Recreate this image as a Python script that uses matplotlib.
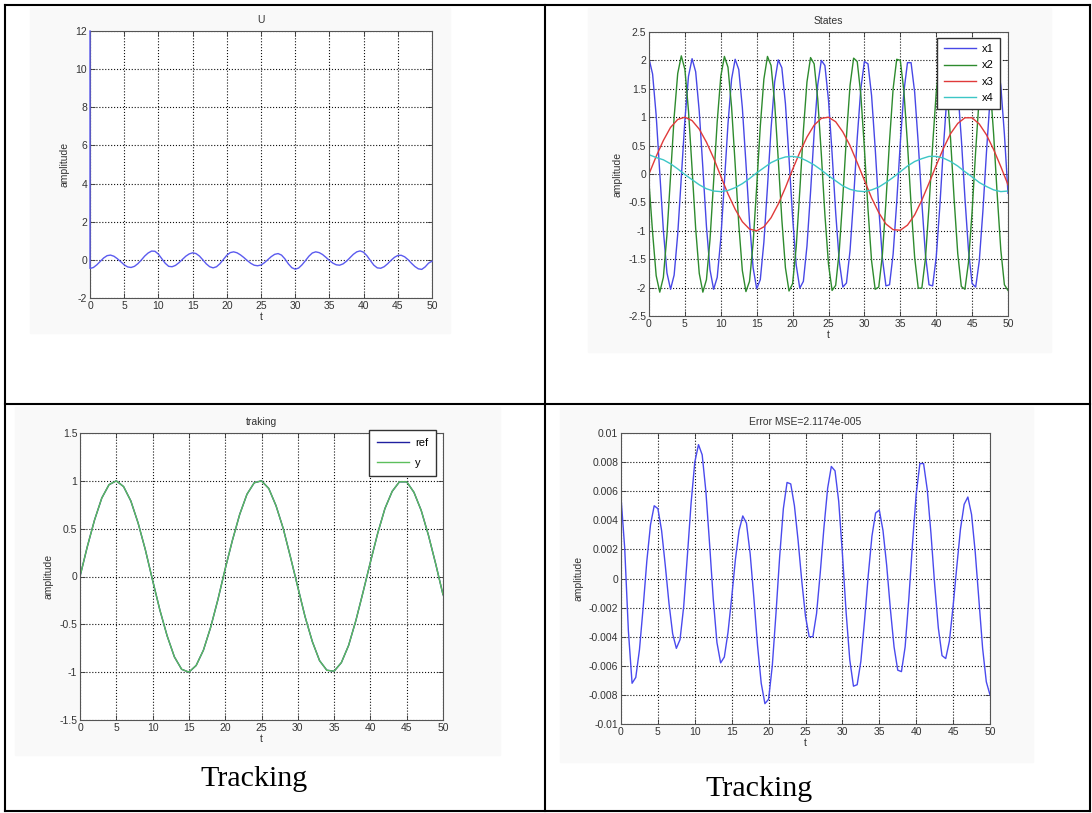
import numpy as np
import matplotlib
matplotlib.use('Agg')
import matplotlib.pyplot as plt
from matplotlib.ticker import FuncFormatter
from matplotlib.lines import Line2D
from matplotlib.patches import Rectangle

# time grids
t_fine = np.arange(0, 50.5, 0.5)
t_slow = np.arange(0, 51, 1.0)

# control signal U (first sample is the initial kick at t=0)
u_kick = 12.0
u_vals = [-0.45, -0.40, -0.26, -0.08, 0.10, 0.22, 0.25, 0.19, 0.06, -0.10,
          -0.26, -0.37, -0.40, -0.34, -0.20, -0.01, 0.20, 0.36, 0.46, 0.45,
          0.30, 0.06, -0.18, -0.34, -0.36, -0.29, -0.15, 0.02, 0.19, 0.31,
          0.37, 0.33, 0.20, 0.00, -0.21, -0.36, -0.42, -0.36, -0.20, 0.02,
          0.24, 0.38, 0.42, 0.37, 0.26, 0.12, -0.04, -0.18, -0.28, -0.31,
          -0.27, -0.15, 0.01, 0.17, 0.29, 0.33, 0.25, 0.05, -0.21, -0.41,
          -0.49, -0.43, -0.26, -0.04, 0.19, 0.36, 0.42, 0.38, 0.28, 0.13,
          -0.03, -0.17, -0.26, -0.28, -0.21, -0.07, 0.11, 0.29, 0.42, 0.47,
          0.40, 0.21, -0.04, -0.28, -0.42, -0.44, -0.36, -0.21, -0.03, 0.13,
          0.23, 0.24, 0.16, 0.01, -0.18, -0.35, -0.47, -0.50, -0.37, -0.17,
          -0.07]

# states
x1 = [2.03, 1.76, 1.03, 0.02, -0.99, -1.74, -2.03, -1.78, -1.06, -0.06,
      0.95, 1.72, 2.03, 1.80, 1.10, 0.11, -0.92, -1.69, -2.03, -1.82,
      -1.14, -0.15, 0.88, 1.67, 2.02, 1.84, 1.17, 0.19, -0.84, -1.65,
      -2.02, -1.86, -1.20, -0.23, 0.80, 1.62, 2.01, 1.87, 1.24, 0.28,
      -0.76, -1.60, -2.01, -1.89, -1.27, -0.32, 0.72, 1.57, 2.00, 1.91,
      1.30, 0.36, -0.68, -1.54, -1.99, -1.92, -1.35, -0.42, 0.63, 1.50,
      1.98, 1.94, 1.38, 0.46, -0.59, -1.48, -1.97, -1.95, -1.41, -0.50,
      0.55, 1.45, 1.96, 1.96, 1.44, 0.54, -0.50, -1.42, -1.95, -1.97,
      -1.47, -0.58, 0.46, 1.38, 1.94, 1.98, 1.50, 0.62, -0.42, -1.35,
      -1.93, -1.99, -1.53, -0.66, 0.38, 1.32, 1.91, 2.00, 1.55, 0.70,
      -0.34]
x2 = [-0.15, -1.03, -1.79, -2.08, -1.82, -1.07, -0.04, 1.00, 1.77, 2.08,
      1.84, 1.11, 0.09, -0.96, -1.75, -2.08, -1.86, -1.15, -0.13, 0.92,
      1.72, 2.07, 1.88, 1.18, 0.17, -0.88, -1.70, -2.07, -1.89, -1.22,
      -0.22, 0.84, 1.67, 2.07, 1.91, 1.25, 0.26, -0.80, -1.65, -2.06,
      -1.93, -1.29, -0.30, 0.76, 1.62, 2.05, 1.94, 1.32, 0.35, -0.72,
      -1.59, -2.05, -1.96, -1.35, -0.40, 0.66, 1.56, 2.04, 1.98, 1.40,
      0.45, -0.62, -1.53, -2.03, -1.99, -1.43, -0.49, 0.58, 1.50, 2.02,
      2.00, 1.46, 0.53, -0.54, -1.47, -2.01, -2.01, -1.49, -0.57, 0.50,
      1.43, 1.99, 2.03, 1.52, 0.62, -0.45, -1.40, -1.98, -2.03, -1.55,
      -0.66, 0.41, 1.37, 1.97, 2.04, 1.58, 0.70, -0.37, -1.34, -1.95,
      -2.05]
x3 = [0.00, 0.31, 0.59, 0.82, 0.96, 1.00, 0.94, 0.79, 0.56, 0.28,
      -0.04, -0.35, -0.62, -0.84, -0.97, -1.00, -0.93, -0.77, -0.53, -0.24,
      0.08, 0.38, 0.65, 0.86, 0.98, 1.00, 0.92, 0.74, 0.50, 0.20,
      -0.11, -0.42, -0.68, -0.88, -0.98, -0.99, -0.90, -0.72, -0.46, -0.16,
      0.15, 0.45, 0.71, 0.89, 0.99, 0.99, 0.88, 0.69, 0.43, 0.13,
      -0.19]
x4 = [0.34, 0.29, 0.25, 0.18, 0.09, -0.01, -0.10, -0.19, -0.26, -0.30,
      -0.31, -0.29, -0.24, -0.17, -0.08, 0.02, 0.11, 0.20, 0.26, 0.30,
      0.31, 0.29, 0.23, 0.16, 0.07, -0.03, -0.12, -0.21, -0.27, -0.30,
      -0.31, -0.28, -0.23, -0.15, -0.06, 0.04, 0.14, 0.22, 0.27, 0.31,
      0.31, 0.28, 0.22, 0.14, 0.04, -0.05, -0.15, -0.22, -0.28, -0.31,
      -0.30]

# tracking: reference and output overlap
ref = x3
y_out = x3

# tracking error (x 1e-3)
err = [5.6, 2.1, -3.6, -7.2, -6.8, -4.9, -2.0, 1.2, 3.7, 5.0,
       4.8, 3.3, 0.9, -1.7, -3.8, -4.8, -4.2, -1.9, 1.6, 5.2,
       8.0, 9.2, 8.5, 6.0, 2.4, -1.4, -4.4, -5.8, -5.4, -3.7,
       -1.3, 1.3, 3.3, 4.3, 3.8, 1.7, -1.3, -4.6, -7.2, -8.6,
       -8.3, -6.0, -2.4, 1.5, 4.8, 6.6, 6.5, 5.0, 2.6, -0.2,
       -2.6, -4.0, -4.0, -2.4, 0.4, 3.5, 6.2, 7.7, 7.4, 5.3,
       1.7, -2.3, -5.6, -7.4, -7.3, -5.7, -2.9, 0.2, 2.9, 4.5,
       4.7, 3.3, 0.9, -2.1, -4.7, -6.3, -6.4, -4.7, -1.4, 2.4,
       5.8, 7.9, 7.9, 6.1, 3.1, -0.4, -3.4, -5.3, -5.5, -4.3,
       -1.9, 0.8, 3.4, 5.1, 5.6, 4.4, 1.8, -1.5, -4.8, -7.1,
       -8.0]
mse_text = 'Error MSE=2.1174e-005'

W, H = 1092, 813
plt.rcParams['font.family'] = ['Liberation Sans', 'DejaVu Sans']
fig = plt.figure(figsize=(W / 100, H / 100), dpi=100)


def fig_rect(x0, y0, x1, y1):
    return [x0 / W, 1 - y1 / H, (x1 - x0) / W, (y1 - y0) / H]


def add_axes_px(x0, y0, x1, y1):
    return fig.add_axes(fig_rect(x0, y0, x1, y1))


def style(ax, yticks, title):
    ax.set_xlim(0, 50)
    ax.set_ylim(yticks[0], yticks[-1])
    ax.set_xticks(np.arange(0, 51, 5))
    ax.set_yticks(yticks)
    fmt = FuncFormatter(lambda v, p: '%g' % round(v, 10))
    ax.xaxis.set_major_formatter(fmt)
    ax.yaxis.set_major_formatter(fmt)
    ax.tick_params(direction='in', length=3.5, width=0.6, labelsize=7.5,
                   colors='#333333', top=True, right=True, pad=2)
    for s in ax.spines.values():
        s.set_color('#555555')
        s.set_linewidth(0.8)
    ax.grid(True, linestyle=':', color='#111111', linewidth=0.8)
    ax.set_axisbelow(True)
    ax.set_title(title, fontsize=7.5, color='#333333', pad=6)
    ax.set_xlabel('t', fontsize=7.5, color='#333333', labelpad=1)
    ax.set_ylabel('amplitude', fontsize=7.5, color='#333333', labelpad=4)


def legend(ax, anchor, spacing, pad):
    ax.legend(loc='upper right', bbox_to_anchor=anchor, borderaxespad=0,
              fontsize=8, handlelength=2.9, fancybox=False,
              edgecolor='#333333', framealpha=1, labelspacing=spacing,
              borderpad=pad, handletextpad=0.55)


# faint figure backgrounds behind each plot
for r in [(30, 8, 450, 333), (588, 8, 1051, 352),
          (15, 407, 500, 755), (560, 407, 1033, 762)]:
    fig.patches.append(Rectangle((r[0] / W, 1 - r[3] / H), (r[2] - r[0]) / W,
                                 (r[3] - r[1]) / H, transform=fig.transFigure,
                                 color='#f9f9f9', zorder=-5))

# U
ax1 = add_axes_px(90, 31, 432, 298)
ax1.plot(np.concatenate([[0.0], t_fine]), [u_kick] + u_vals,
         color='#5b5bef', lw=1.0, clip_on=False, zorder=3)
style(ax1, np.arange(-2, 13, 2), 'U')

# States
ax2 = add_axes_px(649, 32, 1008, 316)
ax2.plot(t_fine, x1, color='#4848e6', lw=1.0, label='x1')
ax2.plot(t_fine, x2, color='#2e8b2e', lw=1.0, label='x2')
ax2.plot(t_slow, x3, color='#e03a3a', lw=1.0, label='x3')
ax2.plot(t_slow, x4, color='#3cc6c6', lw=1.0, label='x4')
style(ax2, np.arange(-2.5, 2.51, 0.5), 'States')
legend(ax2, (0.979, 0.98), 0.55, 0.6)

# traking
ax3 = add_axes_px(80, 433, 443, 720)
ax3.plot(t_slow, ref, color='#2020a0', lw=1.0, label='ref')
ax3.plot(t_slow, y_out, color='#5cbf5c', lw=1.0, label='y')
style(ax3, np.arange(-1.5, 1.51, 0.5), 'traking')
legend(ax3, (0.9815, 1.01), 0.9, 0.7)

# Error
ax4 = add_axes_px(621, 433, 990, 724)
ax4.plot(t_fine, np.array(err) * 1e-3, color='#4a4aee', lw=1.0)
style(ax4, np.arange(-0.01, 0.01001, 0.002), mse_text)

# captions under the bottom plots
fig.text(254 / W, 1 - 779 / H, 'Tracking', fontfamily='Liberation Serif',
         fontsize=21.6, ha='center', va='center')
fig.text(759 / W, 1 - 789 / H, 'Tracking', fontfamily='Liberation Serif',
         fontsize=21.6, ha='center', va='center')

# table border
for xs, ys in [((5, 1090), (5, 5)), ((5, 1090), (404, 404)),
               ((5, 1090), (811, 811)), ((5, 5), (5, 811)),
               ((545, 545), (5, 811)), ((1090, 1090), (5, 811))]:
    fig.add_artist(Line2D([xs[0] / W, xs[1] / W], [1 - ys[0] / H, 1 - ys[1] / H],
                          transform=fig.transFigure, color='k', lw=1.5))

fig.savefig('out.png', dpi=100)
